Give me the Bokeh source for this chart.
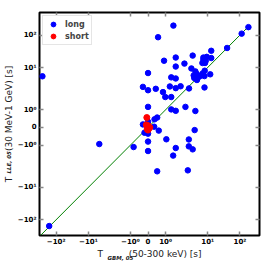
import math
from bokeh.plotting import figure
from bokeh.models import Range1d, FixedTicker, LinearAxis, Title, Legend, LegendItem
from bokeh.embed import file_html
from bokeh.resources import INLINE

# ---- data (seconds) ----
long_x = [183, 113, 1.53, 0.57, 40, 12.9, 4.4, 9.5,
          7.9, 7.9, 9.0, 7.5, 8.65, 12.9, 0.91, 1.74, 2.8, 1.74, 4.1, 5.1, 8.5,
          5.26, 4.65, 5.55, 4.8, 5.75, 6.28, 5.55, 7.1, 7.6, 8.4, 12.0,
          0.0, 1.36, 1.74, -0.29, 0.0, 0.44, 1.26, 1.74, 2.27, 3.6, 8.4, 0.85,
          0.98, 1.36, 0.0, 2.96, 1.36, 1.74, 5.1, 0.52, 0.37, 0.0, -0.29, 0.35,
          0.61, 4.9, 0.0, 0.0, 0.0, 1.04, 1.74, 1.51, 3.56, 3.56, 4.4, 0.52,
          3.37, -164, -5.5, -0.82, -266, -0.2]
long_y = [176, 111, 196, 86, 40, 32.8, 23.3, 21.3,
          20.3, 17.3, 16.2, 13.8, 13.8, 19.6, 16.2, 20.3, 13.2, 10.7, 9.5, 8.1, 8.4,
          7.25, 6.5, 6.9, 5.65, 5.65, 6.1, 5.06, 6.5, 7.25, 6.27, 6.9,
          7.4, 5.85, 5.5, 3.48, 2.9, 3.13, 3.56, 3.25, 3.6, 3.2, 3.37, 2.62,
          2.0, 2.0, 1.17, 1.17, 1.02, 0.94, 0.93, 0.56, 0.46, 0.32, 0.17, 0.04,
          -0.18, -0.15, -0.35, -0.8, -1.38, -0.67, -1.17, -1.77, -0.68, -1.07, -1.26, -4.17,
          -3.96, -156, -0.94, -1.11, 6.2, -0.3]
short_x = [-0.07, -0.1, 0.0, 0.05, -0.05, 0.1, 0.0]
short_y = [0.56, 0.15, 0.1, -0.05, -0.1, 0.0, -0.15]
diag = [-300, 180]
tick_values = [-100, -10, -1, 0, 1, 10, 100]
tick_labels = ["\u221210\u00b2", "\u221210\u00b9", "\u221210\u2070", "0",
               "10\u2070", "10\u00b9", "10\u00b2"]
x_title = ["T", "GBM, 05", "(50-300 keV) [s]"]
y_title = ["T", "LLE, 05", "(30 MeV-1 GeV) [s]"]

# ---- symmetric-log style transform ----
LIN, DEC1, DEC2 = 18, 43, 33


def T(v):
    s = 1 if v >= 0 else -1
    a = abs(v)
    if a <= 1:
        t = a * LIN
    elif a <= 10:
        t = LIN + DEC1 * math.log10(a)
    else:
        t = LIN + DEC1 + DEC2 * math.log10(a / 10)
    return s * t


XMIN, XMAX = -111, 114
YMIN, YMAX = -110, 117
W, H = 261, 261
BL, BR, BT, BB = 34, 2, 12, 22
FONT = "DejaVu Sans"
NB = "\u00a0"

p = figure(width=W, height=H, output_backend="svg", toolbar_location=None,
           x_range=Range1d(XMIN, XMAX), y_range=Range1d(YMIN, YMAX),
           min_border_left=BL, min_border_right=BR, min_border_top=BT,
           min_border_bottom=BB)
p.grid.visible = False
p.outline_line_color = "black"
p.outline_line_width = 2
p.background_fill_color = "white"
p.border_fill_color = "white"

ticks = [round(T(v)) for v in tick_values]
overrides = {t: l for t, l in zip(ticks, tick_labels)}


def style_axis(ax, show_labels=True):
    ax.ticker = FixedTicker(ticks=ticks)
    ax.axis_line_color = None
    ax.major_tick_in = 4
    ax.major_tick_out = 0
    ax.major_tick_line_color = "#888888"
    ax.major_tick_line_width = 1.5
    ax.minor_tick_line_color = None
    if show_labels:
        ax.major_label_overrides = overrides
        ax.major_label_text_font = FONT
        ax.major_label_text_font_style = "bold"
        ax.major_label_text_font_size = "7px"
        ax.major_label_text_color = "black"
        ax.major_label_standoff = 2
        ax.axis_label_text_font = FONT
        ax.axis_label_text_font_size = "9px"
        ax.axis_label_text_font_style = "normal"
        ax.axis_label_text_color = "#222222"
        ax.axis_label_standoff = 1
    else:
        ax.major_label_text_font_size = "1px"
        ax.major_label_text_color = None
        ax.major_label_standoff = 0


style_axis(p.xaxis[0])
style_axis(p.yaxis[0])
p.yaxis[0].major_label_standoff = 3
p.xaxis[0].axis_label_standoff = 0
p.xaxis[0].axis_label = x_title[0] + NB * 9 + x_title[2]
p.yaxis[0].axis_label = y_title[0] + NB * 9 + y_title[2]

top = LinearAxis()
right = LinearAxis()
style_axis(top, False)
style_axis(right, False)
p.add_layout(top, "above")
p.add_layout(right, "right")

# subscripts, placed as small titles next to the axis titles
p.add_layout(Title(text=x_title[1], align="left", offset=68, standoff=-14,
                   vertical_align="top",
                   text_font=FONT, text_font_size="5.5px",
                   text_font_style="bold italic", text_color="#222222"), "below")
p.add_layout(Title(text=y_title[1], align="left", offset=62, standoff=-22,
                   text_font=FONT, text_font_size="5.5px",
                   text_font_style="bold italic", text_color="#222222"), "left")

p.line([T(v) for v in diag], [T(v) for v in diag], line_color="#008000", line_width=1)
r_long = p.scatter([T(v) for v in long_x], [T(v) for v in long_y], size=5.5,
                   fill_color="#0000ff", line_color="#0000ff")
r_short = p.scatter([T(v) for v in short_x], [T(v) for v in short_y], size=6,
                    fill_color="#ff0000", line_color="#ff0000")
e_long = p.scatter([], [], marker="cross", line_color="#0000ff", line_width=1.5)
e_short = p.scatter([], [], marker="cross", line_color="#ff0000", line_width=1.5)

legend = Legend(items=[LegendItem(label="long", renderers=[e_long, r_long]),
                       LegendItem(label="short", renderers=[e_short, r_short])],
                location="top_left", margin=3, padding=2, spacing=0,
                glyph_width=16, glyph_height=12, label_height=10,
                label_standoff=4, label_text_font=FONT,
                label_text_font_style="bold", label_text_font_size="8px",
                border_line_color="#cccccc", border_line_width=1,
                background_fill_alpha=1.0)
p.add_layout(legend)

open("out.html", "w").write(file_html(p, INLINE))
